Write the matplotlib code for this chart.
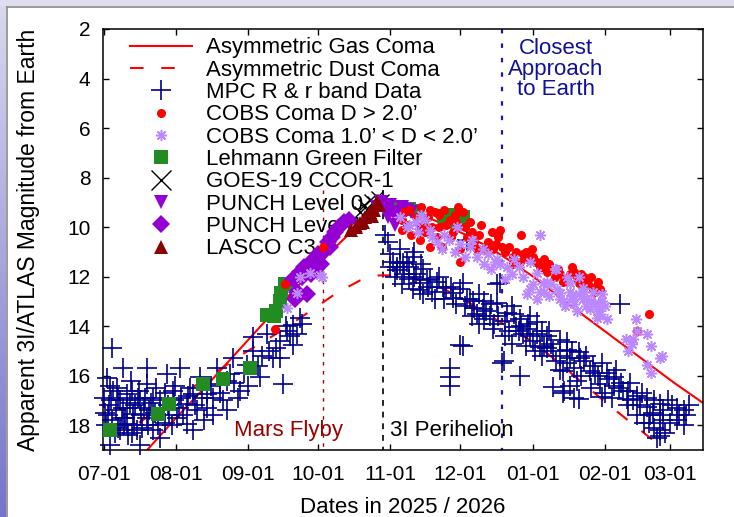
import numpy as np
import matplotlib
matplotlib.use('Agg')
import matplotlib.pyplot as plt
import matplotlib.dates as mdates
from matplotlib.patches import Rectangle
from matplotlib.lines import Line2D

plt.rcParams['font.family'] = ['Liberation Sans', 'DejaVu Sans']

# ---------------- data (days since 2025-07-01, apparent magnitude) ----------------
gas_day = [18.5, 30, 45, 60, 75, 88, 100, 110, 118, 126, 135, 145, 155, 165, 175, 185, 200, 215, 230, 245, 258]
gas_mag = [19.0, 17.8, 16.3, 14.75, 13.2, 11.9, 10.75, 9.85, 9.35, 9.25, 9.45, 9.85, 10.3, 10.8, 11.4, 12.05, 13.15, 14.2, 15.25, 16.3, 17.15]

dust_day = [15, 30, 45, 60, 75, 90, 100, 110, 118, 126, 135, 145, 155, 165, 175, 185, 195, 205, 215, 225, 237]
dust_mag = [17.9, 16.95, 16.05, 15.1, 14.25, 13.3, 12.65, 12.15, 11.95, 11.95, 12.1, 12.45, 12.95, 13.55, 14.1, 14.7, 15.45, 16.25, 17.05, 17.8, 18.7]

mpc_day = [0, 0.5, 1, 1.3, 2, 2.6, 3.3, 3.5, 4, 5, 5.4, 6, 6.9, 7, 8, 8, 9, 9.9, 9.9, 10.5,
           11, 12, 12.6, 13, 14, 14.5, 15.5, 15.5, 16, 17, 18.4, 18.4, 18.4, 19, 20, 21, 22, 23, 24, 25.3,
           26, 27, 28, 29.6, 30, 31.3, 32.6, 33, 35.6, 35.6, 37, 38.2, 38.2, 40, 41.2, 42, 44.2, 44.2, 46, 46.8,
           48.5, 49.8, 51, 52.8, 54, 55.4, 56, 57.5, 58.4, 60, 61.4, 62, 64, 64, 66, 67, 68, 70, 71, 72.6,
           74, 75.5, 75.5, 77, 78, 78.5, 80, 81, 81, 83, 84, 85,
           1.5, 2.5, 3, 4.5, 6, 7.5, 8.5, 10, 11.5, 12, 13.5, 15, 16.5, 17.5, 19.5, 21, 22.5, 24, 26, 27.5,
           29, 30.5, 32, 34, 36, 39, 43, 47, 50, 53,
           120.5, 122, 122.7, 124, 125.6, 126, 127, 127, 128.3, 129, 131, 131, 132.6, 132.6, 133, 134, 135.6, 135.6,
           136, 137, 138.6, 139, 140, 141, 143, 145.5, 147, 148.5, 148.5, 148.5, 150, 150, 152.8, 154, 154, 156,
           156, 157, 158.4, 159, 160, 161, 162.7, 163, 163, 165.7, 166, 167.4, 168.7, 168.7, 170, 171, 171.7, 172,
           173, 174, 175, 176, 177, 178.5, 178.5, 179, 180, 181.5, 182, 183, 184, 185.8, 186, 187, 188, 189,
           190, 191, 192, 192.7, 193, 195.7, 195.7, 196, 197, 197.4, 198.7, 198.7, 199, 200, 201, 201.7, 202,
           204, 204, 204.3, 206, 207, 208.6, 210, 211, 212.9, 214, 214, 216, 217, 218.9, 219, 220, 221.5, 222,
           223, 224.5, 225, 226, 227, 228.7, 230, 231, 233, 233, 234, 234.3, 235.6, 236, 237.3, 238.6, 238.6,
           238.6, 238.6, 240, 240, 242, 243, 245.9, 246, 247, 249, 249, 250, 251,
           123, 125, 128, 130, 133, 137, 142, 144, 146, 149, 151, 153, 155, 158, 161, 164, 167, 169, 172, 175,
           178, 181, 183, 185, 188, 190, 194, 197, 200, 203, 205, 209, 212, 215, 218, 221, 225, 229, 232, 236,
           241, 244]
mpc_mag = [16.9, 17.5, 18.0, 16.1, 17.2, 18.8, 14.9, 17.8, 16.6, 17.4, 16.5, 18.1, 18.2, 17.0, 17.3, 15.7, 17.7, 16.75, 17.95, 18.4,
           17.1, 16.6, 17.55, 18.0, 18.2, 16.9, 17.0, 18.8, 17.6, 17.3, 16.35, 17.7, 15.7, 18.0, 17.1, 16.9, 17.5, 18.0, 18.5, 17.3,
           16.7, 15.95, 17.6, 16.6, 17.0, 17.7, 15.7, 16.9, 17.95, 17.15, 16.5, 16.75, 18.2, 17.4, 16.05, 16.9, 17.3, 16.75, 16.4, 16.9,
           15.67, 16.35, 17.0, 17.4, 15.95, 15.27, 16.3, 16.9, 16.6, 15.9, 15.55, 16.4, 15.0, 14.45, 15.6, 16.05, 15.2, 14.3, 15.0, 15.27,
           14.9, 14.6, 15.27, 16.35, 14.0, 14.2, 14.4, 13.95, 14.75, 14.3, 13.65, 13.9,
           17.6, 16.4, 17.0, 18.3, 16.9, 17.7, 18.0, 17.3, 16.2, 18.3, 17.2, 16.6, 18.1, 16.9, 17.4, 18.2, 16.5, 17.0, 17.9, 17.2,
           18.0, 16.4, 17.3, 17.6, 16.8, 17.2, 17.8, 17.6, 16.7, 16.2,
           10.3, 10.6, 11.6, 11.4, 11.75, 11.6, 11.45, 10.9, 11.45, 11.9, 11.6, 12.1, 11.2, 12.5, 11.0, 11.9, 12.25, 12.55,
           11.5, 11.7, 12.15, 12.4, 12.1, 12.6, 12.2, 12.4, 12.45, 15.7, 16.05, 16.4, 12.65, 12.85, 14.75, 12.25, 14.8, 10.5,
           12.9, 12.9, 13.0, 13.25, 13.5, 12.7, 13.3, 12.97, 13.7, 13.6, 13.1, 13.9, 13.05, 12.3, 12.25, 15.5, 15.4, 13.8,
           13.45, 14.2, 13.2, 13.5, 14.05, 13.7, 16.0, 14.0, 14.3, 14.1, 13.9, 13.6, 14.6, 13.85, 14.3, 14.85, 14.2, 14.8,
           14.4, 14.2, 14.7, 16.45, 15.0, 14.55, 15.75, 15.2, 16.7, 16.6, 14.95, 14.65, 15.5, 16.4, 15.0, 16.9, 15.7,
           15.06, 16.95, 15.3, 15.4, 15.2, 15.8, 15.6, 15.9, 16.35, 16.85, 15.5, 15.9, 16.15, 16.07, 16.4, 15.75, 13.1, 16.3,
           16.6, 16.95, 16.6, 16.3, 17.0, 16.8, 17.2, 16.7, 17.25, 16.9, 17.9, 17.6, 17.5, 17.0, 18.5, 17.6, 17.15,
           18.2, 18.45, 17.8, 17.4, 17.0, 17.9, 17.3, 17.8, 17.6, 17.4, 18.0, 17.6, 17.2,
           11.1, 12.0, 12.3, 11.4, 12.0, 12.7, 12.9, 12.0, 12.9, 12.4, 13.1, 12.5, 13.2, 13.6, 13.9, 13.4, 14.1, 13.6, 14.4, 14.7,
           14.2, 14.8, 14.4, 15.0, 15.2, 14.9, 15.4, 15.8, 15.3, 16.2, 16.0, 16.5, 16.0, 16.7, 16.9, 16.5, 17.2, 17.6, 17.9, 18.1,
           18.3, 17.2]

cobs_big_day = [73.4, 77.7, 94, 128, 128, 129, 131, 135.6, 137, 140, 140, 141, 144, 144, 145, 147, 148.5, 150, 150.6, 152,
                153, 153, 155, 156, 158, 160, 162, 166.5, 168.5, 169, 172, 175.6, 175.6, 178.5, 179, 180, 182, 183.6, 185, 187,
                188, 190, 193.6, 196, 198.7, 201, 202, 203, 204, 206, 208, 210, 210.7, 212, 229, 234,
                130, 132, 134, 136, 138, 139, 142, 143, 146, 149, 151, 154, 157, 159, 161, 163, 165, 167, 170, 171,
                174, 177, 181, 184, 186, 189, 191, 195, 197, 200, 205, 207, 209, 211, 213]
cobs_big_mag = [14.1, 12.3, 10.8, 9.7, 10.1, 9.4, 9.3, 10.5, 9.9, 9.3, 10.8, 10.0, 9.5, 10.0, 10.8, 9.9, 9.7, 10.2, 9.5, 9.2,
                10.9, 11.4, 10.0, 10.4, 10.2, 10.9, 9.9, 10.2, 10.7, 10.4, 11.0, 11.2, 11.5, 11.4, 10.3, 11.1, 11.3, 10.9, 11.4, 11.6,
                11.6, 11.8, 12.0, 11.9, 12.1, 11.6, 11.8, 12.1, 12.25, 12.0, 12.3, 12.5, 12.4, 12.2, 14.2, 13.5,
                9.9, 10.3, 9.6, 9.2, 10.2, 9.6, 9.4, 10.4, 9.3, 10.4, 9.8, 9.4, 9.8, 10.6, 10.3, 10.9, 10.6, 10.9, 10.1, 10.8,
                10.8, 11.0, 11.0, 11.2, 11.4, 11.3, 11.5, 11.7, 12.2, 11.9, 11.9, 12.3, 12.0, 12.6, 12.5]

cobs_small_day = [78.5, 82.8, 84, 88.4, 92.7, 93.6, 127, 130, 134, 136, 141, 143, 146, 150.6, 151.5, 157, 160, 162.7, 165, 168,
                  168.7, 173, 176, 181.5, 182.8, 184, 185.8, 187, 187, 188.4, 190, 191, 193.6, 194, 194.4, 195.7, 197, 199, 200, 201,
                  201, 203, 204, 205.6, 205.6, 206, 207, 208.6, 209, 210.7, 211.6, 212, 213.7, 214, 224, 225, 226.6, 227, 228.5, 229,
                  233, 233, 235, 235, 238.6, 239.5,
                  131, 135, 138, 140, 145, 148, 153, 155, 158, 163, 166, 170, 172, 175, 178, 180, 183, 186, 189, 192,
                  196, 198, 200, 202, 204, 207, 210, 212, 213, 215, 216]
cobs_small_mag = [13.25, 12.65, 12.0, 11.85, 11.95, 12.0, 9.6, 10.0, 9.8, 9.5, 10.4, 10.6, 10.3, 11.0, 10.0, 10.8, 11.2, 10.9, 11.1, 11.4,
                  11.3, 11.6, 11.3, 12.7, 11.4, 12.3, 11.85, 10.3, 12.6, 12.25, 12.2, 12.8, 11.7, 11.7, 12.5, 12.65, 13.0, 12.0, 12.25, 12.9,
                  12.8, 13.4, 12.0, 12.9, 12.45, 12.6, 13.2, 13.3, 13.0, 13.1, 13.65, 13.4, 12.7, 13.0, 14.5, 15.0, 14.7, 14.5, 13.7, 14.2,
                  14.3, 15.55, 14.8, 15.9, 15.3, 15.2,
                  9.9, 10.2, 9.7, 10.1, 10.9, 10.5, 10.7, 11.2, 10.5, 11.5, 11.7, 11.5, 12.1, 11.9, 11.6, 12.0, 12.5, 12.9, 12.6, 12.3,
                  12.9, 13.2, 12.6, 13.1, 12.7, 12.9, 12.6, 13.1, 13.5, 13.2, 13.7]

lehmann_day = [2.6, 23, 28, 42.6, 51, 62.7, 70, 73, 74, 75.5, 76, 77.7, 124, 127, 131, 135, 146, 150, 152, 154]
lehmann_mag = [18.2, 17.55, 17.15, 16.35, 16.15, 15.7, 13.55, 13.6, 13.4, 12.98, 12.65, 12.3, 9.2, 9.3, 9.25, 9.35, 9.55, 9.5, 9.8, 9.6]

goes_day = [110, 111.5, 113, 114, 115.5, 117, 118.5, 120]
goes_mag = [9.4, 9.1, 9.3, 8.9, 9.0, 8.8, 9.0, 8.9]

punch0_day = [117, 119, 121, 122, 123, 124, 125, 126, 128, 130, 132, 136]
punch0_mag = [9.2, 9.0, 9.3, 9.6, 9.1, 9.4, 9.9, 9.5, 9.2, 9.3, 9.4, 10.1]

punch1_day = [81, 82, 83, 84, 85, 86, 87, 88, 89, 90, 91, 92, 93, 94, 96, 97, 98, 99, 101, 103, 105]
punch1_mag = [12.1, 12.9, 12.6, 11.8, 12.0, 11.6, 12.7, 11.5, 11.9, 11.3, 11.7, 11.1, 11.5, 11.0, 10.6, 10.8, 10.4, 10.2, 10.0, 9.8, 9.7]

lasco_day = [106, 108, 110, 111, 112, 114, 115, 116, 117, 118]
lasco_mag = [10.1, 10.0, 9.85, 9.8, 9.6, 9.4, 9.55, 9.3, 9.0, 9.1]

mars_flyby_day = 94        # 2025-10-03
perihelion_day = 120       # 2025-10-29
closest_day = 171          # 2025-12-19

y_ticks = [2, 4, 6, 8, 10, 12, 14, 16, 18]

# ---------------- figure ----------------
W, H = 734, 517
fig = plt.figure(figsize=(W / 100, H / 100), dpi=100)
fig.patch.set_facecolor('white')

# window-like frame (top band + left gradient band)
fig.add_artist(Rectangle((0, 1 - 6 / H), 1, 6 / H, transform=fig.transFigure,
                         facecolor='#dedef0', edgecolor='none', zorder=0))
gax = fig.add_axes([0, 0, 6 / W, 1 - 6 / H])
grad = np.linspace(0, 1, 256).reshape(-1, 1)
c_top = np.array([0xd8, 0xd8, 0xee]) / 255
c_bot = np.array([0x76, 0x74, 0xcc]) / 255
img = c_top[None, None, :] * (1 - grad[:, :, None]) + c_bot[None, None, :] * grad[:, :, None]
gax.imshow(img, aspect='auto', extent=[0, 1, 0, 1])
gax.axis('off')
fig.add_artist(Line2D([6.5 / W, 1], [1 - 6.5 / H, 1 - 6.5 / H], transform=fig.transFigure,
                      color='#8a8a8a', lw=1.2))
fig.add_artist(Line2D([6.5 / W, 6.5 / W], [0, 1 - 6.5 / H], transform=fig.transFigure,
                      color='#8a8a8a', lw=1.2))

ax = fig.add_axes([103 / W, 67 / H, 600 / W, 421 / H])
base = mdates.date2num(np.datetime64('2025-07-01T00:00'))


def X(days):
    return base + np.asarray(days, dtype=float)


ax.plot(X(gas_day), gas_mag, color='#ff0000', lw=1.5, zorder=2, label='Asymmetric Gas Coma')
ax.plot(X(dust_day), dust_mag, color='#ff0000', lw=1.5, dashes=(6.5, 8.5), zorder=2,
        label='Asymmetric Dust Coma')
ax.plot(X(mpc_day), mpc_mag, ls='none', marker='+', ms=14, mew=1.2, color='#00008b',
        clip_on=False, zorder=3, label='MPC R & r band Data')
ax.plot(X(cobs_big_day), cobs_big_mag, ls='none', marker='o', ms=6.5, mew=0, color='#ff0000',
        zorder=8, label='COBS Coma D > 2.0\u2019')
ax.plot(X(cobs_small_day), cobs_small_mag, ls='none', marker=(8, 2, 0), ms=8, mew=1.1,
        color='#bb88ff', zorder=9, label='COBS Coma 1.0\u2019 < D < 2.0\u2019')
ax.plot(X(lehmann_day), lehmann_mag, ls='none', marker='s', ms=10.5, mew=0, color='#228b22',
        zorder=4, label='Lehmann Green Filter')
ax.plot(X(goes_day), goes_mag, ls='none', marker='x', ms=9, mew=1.0, color='black',
        zorder=5, label='_goes')
ax.plot(X(punch0_day), punch0_mag, ls='none', marker='v', ms=10, mew=0, color='#9400d3',
        zorder=6, label='PUNCH Level 0')
ax.plot(X(punch1_day), punch1_mag, ls='none', marker='D', ms=9, mew=0, color='#9400d3',
        zorder=6, label='PUNCH Level 1')
ax.plot(X(lasco_day), lasco_mag, ls='none', marker='^', ms=10, mew=0, color='#8b0000',
        zorder=7, label='LASCO C3')

# event lines
ax.plot(X([mars_flyby_day] * 2), [8.5, 19], color='#990000', lw=1.0, dashes=(2.5, 4), zorder=1.5)
ax.plot(X([perihelion_day] * 2), [8.5, 19], color='black', lw=1.2, dashes=(3.5, 3.5), zorder=1.5)
ax.plot(X([closest_day] * 2), [2, 19], color='#1a1aa0', lw=1.6, dashes=(2.0, 4.5), zorder=1.5)

ax.set_xlim(base - 0.45, base + 257.2)
ax.set_ylim(19, 2)
ax.set_yticks(y_ticks)
ax.xaxis.set_major_locator(mdates.MonthLocator(bymonthday=1))
ax.xaxis.set_major_formatter(mdates.DateFormatter('%m-%d'))

ax.tick_params(axis='both', which='both', direction='in', top=True, right=True,
               length=4.5, width=1.0, labelsize=15)
ax.tick_params(axis='y', pad=9)
ax.tick_params(axis='x', pad=11)
for s in ax.spines.values():
    s.set_linewidth(1.1)

# annotations
def axfrac(px, py):
    return (px - 103) / 600, (450 - py) / 421

ax.text(*axfrac(289, 436), 'Mars Flyby', color='#990000', fontsize=16, ha='center', va='baseline',
        transform=ax.transAxes, zorder=10)
ax.text(*axfrac(452, 436), '3I Perihelion', color='black', fontsize=16, ha='center', va='baseline',
        transform=ax.transAxes, zorder=10)
for txt, bl in [('Closest', 54), ('Approach', 75), ('to Earth', 95)]:
    ax.text(*axfrac(556, bl), txt, color='#10109a', fontsize=16, ha='center', va='baseline',
            transform=ax.transAxes, zorder=10)

fig.text(29 / W, 1 - 240 / H, 'Apparent 3I/ATLAS Magnitude from Earth', rotation=90,
         ha='center', va='center', fontsize=16.5)
fig.text(403 / W, 1 - 513 / H, 'Dates in 2025 / 2026', ha='center', va='baseline', fontsize=16)

# legend (GOES uses a larger proxy marker as in the key)
handles, labels = ax.get_legend_handles_labels()
goes_proxy = Line2D([], [], ls='none', marker='x', ms=15, mew=1.0, color='black')
idx = labels.index('Lehmann Green Filter') + 1
handles.insert(idx, goes_proxy)
labels.insert(idx, 'GOES-19 CCOR-1')
leg = ax.legend(handles, labels, loc='upper left', bbox_to_anchor=(0.045, 0.98), frameon=False,
                fontsize=16, handlelength=2.8, handletextpad=0.6, labelspacing=0.06, borderpad=0,
                borderaxespad=0, numpoints=1)
leg.set_zorder(2.5)

fig.savefig('out.png', dpi=100)
